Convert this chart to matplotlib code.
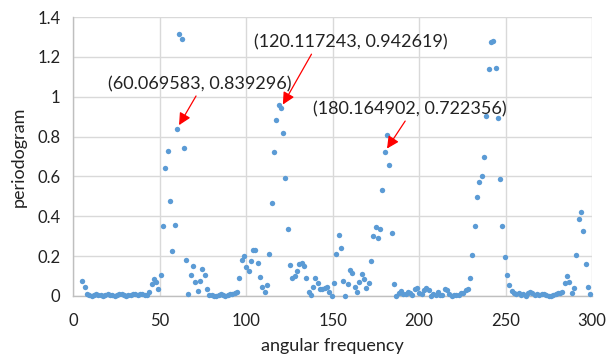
import matplotlib.pyplot as plt

# angular frequency of each periodogram sample
freq = [5.36, 6.69, 8.03, 9.36, 10.70, 12.03,
        13.37, 14.70, 16.03, 17.37, 18.70, 20.04, 21.37, 22.71, 24.04, 25.38,
        26.71, 28.04, 29.38, 30.71, 32.05, 33.38, 34.72, 36.05, 37.38, 38.72,
        40.05, 41.39, 42.72, 44.06, 45.39, 46.73, 48.06, 49.39, 50.73, 52.06,
        53.40, 54.73, 56.07, 57.40, 58.74, 60.069583, 61.40, 62.74, 64.07, 65.41,
        66.74, 68.08, 69.41, 70.74, 72.08, 73.41, 74.75, 76.08, 77.42, 78.75,
        80.09, 81.42, 82.75, 84.09, 85.42, 86.76, 88.09, 89.43, 90.76, 92.09,
        93.43, 94.76, 96.10, 97.43, 98.77, 100.10, 101.44, 102.77, 104.10, 105.44,
        106.77, 108.11, 109.44, 110.78, 112.11, 113.45, 114.78, 116.11, 117.45, 118.78,
        120.117243, 121.45, 122.79, 124.12, 125.45, 126.79, 128.12, 129.46, 130.79, 132.13,
        133.46, 134.80, 136.13, 137.46, 138.80, 140.13, 141.47, 142.80, 144.14, 145.47,
        146.81, 148.14, 149.47, 150.81, 152.14, 153.48, 154.81, 156.15, 157.48, 158.81,
        160.15, 161.48, 162.82, 164.15, 165.49, 166.82, 168.16, 169.49, 170.82, 172.16,
        173.49, 174.83, 176.16, 177.50, 178.83, 180.164902, 181.50, 182.83, 184.17, 185.50,
        186.84, 188.17, 189.51, 190.84, 192.17, 193.51, 194.84, 196.18, 197.51, 198.85,
        200.18, 201.52, 202.85, 204.18, 205.52, 206.85, 208.19, 209.52, 210.86, 212.19,
        213.52, 214.86, 216.19, 217.53, 218.86, 220.20, 221.53, 222.87, 224.20, 225.53,
        226.87, 228.20, 229.54, 230.87, 232.21, 233.54, 234.87, 236.21, 237.54, 238.88,
        240.21, 241.55, 242.88, 244.22, 245.55, 246.88, 248.22, 249.55, 250.89, 252.22,
        253.56, 254.89, 256.23, 257.56, 258.89, 260.23, 261.56, 262.90, 264.23, 265.57,
        266.90, 268.23, 269.57, 270.90, 272.24, 273.57, 274.91, 276.24, 277.58, 278.91,
        280.24, 281.58, 282.91, 284.25, 285.58, 286.92, 288.25, 289.58, 290.92, 292.25,
        293.59, 294.92, 296.26, 297.59, 298.93]

pgram = [0.074, 0.047, 0.012, 0.005, 0.002, 0.004,
         0.008, 0.006, 0.003, 0.001, 0.005, 0.009, 0.007, 0.004, 0.002, 0.006,
         0.010, 0.008, 0.003, 0.001, 0.004, 0.007, 0.011, 0.009, 0.005, 0.010,
         0.012, 0.006, 0.003, 0.019, 0.059, 0.087, 0.069, 0.034, 0.104, 0.353,
         0.644, 0.727, 0.478, 0.226, 0.358, 0.839296, 1.313, 1.291, 0.743, 0.182,
         0.010, 0.104, 0.152, 0.072, 0.023, 0.075, 0.134, 0.107, 0.034, 0.003,
         0.003, 0.000, 0.000, 0.003, 0.010, 0.003, 0.000, 0.003, 0.010, 0.010,
         0.014, 0.018, 0.089, 0.180, 0.200, 0.147, 0.125, 0.177, 0.232, 0.229,
         0.168, 0.097, 0.047, 0.019, 0.055, 0.210, 0.468, 0.721, 0.883, 0.957,
         0.942619, 0.820, 0.592, 0.336, 0.157, 0.092, 0.102, 0.127, 0.160, 0.165,
         0.150, 0.089, 0.022, 0.004, 0.047, 0.089, 0.067, 0.034, 0.034, 0.042,
         0.045, 0.018, 0.000, 0.064, 0.210, 0.306, 0.239, 0.075, 0.000, 0.059,
         0.130, 0.114, 0.044, 0.022, 0.072, 0.110, 0.084, 0.042, 0.067, 0.176,
         0.301, 0.345, 0.293, 0.336, 0.532, 0.722356, 0.806, 0.657, 0.315, 0.060,
         0.000, 0.017, 0.025, 0.008, 0.012, 0.020, 0.015, 0.005, 0.034, 0.039,
         0.014, 0.010, 0.030, 0.042, 0.030, 0.000, 0.010, 0.005, 0.022, 0.005,
         0.005, 0.034, 0.030, 0.010, 0.000, 0.003, 0.003, 0.006, 0.014, 0.017,
         0.030, 0.034, 0.092, 0.206, 0.351, 0.495, 0.570, 0.602, 0.696, 0.903,
         1.139, 1.276, 1.278, 1.146, 0.893, 0.589, 0.351, 0.194, 0.104, 0.055,
         0.027, 0.014, 0.010, 0.017, 0.005, 0.010, 0.000, 0.014, 0.022, 0.014,
         0.005, 0.010, 0.005, 0.010, 0.010, 0.005, 0.002, 0.000, 0.005, 0.010,
         0.014, 0.017, 0.022, 0.064, 0.100, 0.072, 0.014, 0.039, 0.206, 0.386,
         0.423, 0.325, 0.160, 0.047, 0.010]

x_ticks = [0, 50, 100, 150, 200, 250, 300]
y_ticks = [0, 0.2, 0.4, 0.6, 0.8, 1.0, 1.2, 1.4]
y_tick_labels = ['0', '0.2', '0.4', '0.6', '0.8', '1', '1.2', '1.4']

# labelled peaks: (point, text position, arrow start on text bottom)
peaks = [((60.069583, 0.839296), (73.5, 1.064), 0.49),
         ((120.117243, 0.942619), (160.4, 1.274), 0.31),
         ((180.164902, 0.722356), (194.6, 0.938), 0.49)]

plt.rcParams['font.family'] = ['Lato', 'DejaVu Sans']
text_color = '#222222'

fig = plt.figure(figsize=(6.06, 3.58), dpi=100)
ax = fig.add_axes([0.1205, 0.1732, 0.8565, 0.7793])

ax.scatter(freq, pgram, s=15, color='#5B9BD5', linewidths=0, zorder=3, clip_on=False)

ax.set_xlim(0, 300)
ax.set_ylim(0, 1.4)
ax.set_xticks(x_ticks)
ax.set_yticks(y_ticks)
ax.set_yticklabels(y_tick_labels)
ax.tick_params(length=0, labelsize=12, colors=text_color)
ax.tick_params(axis='x', pad=12)
ax.tick_params(axis='y', pad=9)
ax.grid(True, color='#d9d9d9', linewidth=1)
ax.set_axisbelow(True)
for side in ['top', 'right']:
    ax.spines[side].set_visible(False)
for side in ['left', 'bottom']:
    ax.spines[side].set_color('#bfbfbf')
    ax.spines[side].set_linewidth(1)

ax.set_xlabel('angular frequency', fontsize=13, color=text_color, labelpad=7)
ax.set_ylabel('periodogram', fontsize=13, color=text_color, labelpad=8)

for (px, py), (tx, ty), rx in peaks:
    ax.annotate('(%.6f, %.6f)' % (px, py), xy=(px, py), xytext=(tx, ty),
                ha='center', va='center', fontsize=13, color=text_color,
                arrowprops=dict(arrowstyle='-|>', color='red', lw=0.9,
                                mutation_scale=18, shrinkA=1, shrinkB=3,
                                relpos=(rx, 0)))

fig.savefig('out.png', dpi=100)
